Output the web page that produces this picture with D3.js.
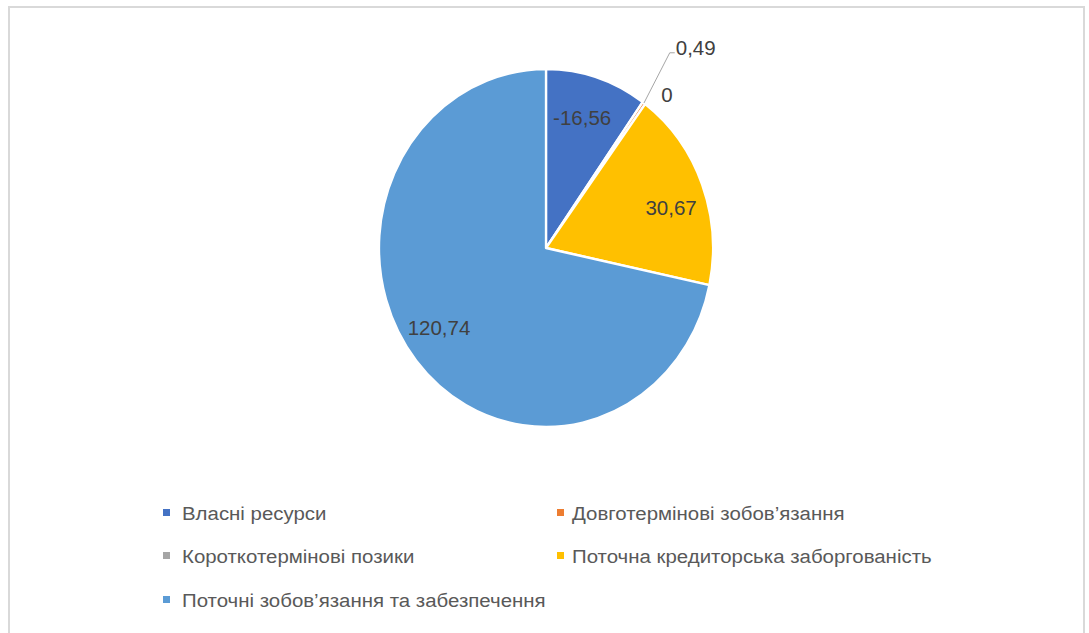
<!DOCTYPE html>
<html>
<head>
<meta charset="utf-8">
<script src="https://cdn.jsdelivr.net/npm/d3@7"></script>
<style>
  body { margin: 0; background: #fff; }
  text { font-family: "Liberation Sans", Arial, sans-serif; fill: #404040; }
</style>
</head>
<body>
<div id="chart"></div>
<script>
let categories = ['Власні ресурси', 'Довготермінові зобов’язання', 'Короткотермінові позики',
    'Поточна кредиторська заборгованість', 'Поточні зобов’язання та забезпечення'];
let values = [-16.56, 0.49, 0, 30.67, 120.74];
let labels = ['-16,56', '0,49', '0', '30,67', '120,74'];
let colors = ['#4472c4', '#ed7d31', '#a5a5a5', '#ffc000', '#5b9bd5'];

let W = 1089, H = 633;
let cx = 546, cy = 248, R = 179, sx = 0.933;

let svg = d3.select('#chart').append('svg')
    .attr('width', W)
    .attr('height', H);

svg.append('rect')
    .attr('x', 9).attr('y', 7)
    .attr('width', 1075).attr('height', 640)
    .attr('fill', '#fff')
    .attr('stroke', '#d9d9d9')
    .attr('stroke-width', 2);

let data = categories.map((c, i) => ({name: c, value: values[i], label: labels[i], color: colors[i]}));

let pie = d3.pie()
    .sort(null)
    .value(d => Math.abs(d.value));
let arcs = pie(data);

let arc = d3.arc().innerRadius(0).outerRadius(R);

let g = svg.append('g')
    .attr('transform', `translate(${cx},${cy}) scale(${sx},1)`);

g.selectAll('path')
    .data(arcs.filter(d => d.data.value !== 0))
    .join('path')
    .attr('d', arc)
    .attr('fill', d => d.data.color)
    .attr('stroke', '#fff')
    .attr('stroke-width', 2.5)
    .attr('stroke-linejoin', 'round');

// point on the ellipse for a given angle and radius
function pt(angle, r) {
    return [cx + sx * r * Math.sin(angle), cy - r * Math.cos(angle)];
}

let labelG = svg.append('g').attr('font-size', 20.5);

arcs.forEach(d => {
    let mid = (d.startAngle + d.endAngle) / 2;
    let span = d.endAngle - d.startAngle;
    if (span > 0.1) {
        // best fit inside the slice
        let a = span > 0.8 ? mid + 0.07 : mid - 0.02;
        let p = pt(a, span > 0.8 ? 140 : 136);
        labelG.append('text')
            .attr('x', p[0])
            .attr('y', p[1])
            .attr('dy', '0.35em')
            .attr('text-anchor', 'middle')
            .text(d.data.label);
    } else if (d.data.value !== 0) {
        // small slice: leader line
        let p0 = pt(mid, R);
        let p1 = pt(mid - 0.03, 236);
        let p2 = [p1[0] + 5, p1[1]];
        labelG.append('polyline')
            .attr('points', [p0, p1, p2].map(p => p.join(',')).join(' '))
            .attr('fill', 'none')
            .attr('stroke', '#a6a6a6')
            .attr('stroke-width', 1);
        labelG.append('text')
            .attr('x', p2[0] + 1)
            .attr('y', p2[1] - 5)
            .attr('dy', '0.35em')
            .text(d.data.label);
    } else {
        let p = pt(mid + 0.07, 200);
        labelG.append('text')
            .attr('x', p[0])
            .attr('y', p[1] - 1)
            .attr('dy', '0.35em')
            .attr('text-anchor', 'middle')
            .text(d.data.label);
    }
});

// legend
let legendX = [163, 557];
let legendY = [513, 556, 600];

let legend = svg.append('g').attr('font-size', 19);
data.forEach((d, i) => {
    let col = i % 2, row = Math.floor(i / 2);
    let item = legend.append('g')
        .attr('transform', `translate(${legendX[col]},${legendY[row]})`);
    item.append('rect')
        .attr('x', 0).attr('y', -4)
        .attr('width', 7).attr('height', 7)
        .attr('fill', d.color);
    item.append('text')
        .attr('x', 0)
        .attr('y', 0)
        .attr('dy', '0.35em')
        .attr('transform', `translate(${col ? 15 : 19},0) scale(1.075,1)`)
        .style('fill', '#595959')
        .text(d.name);
});
</script>
</body>
</html>
